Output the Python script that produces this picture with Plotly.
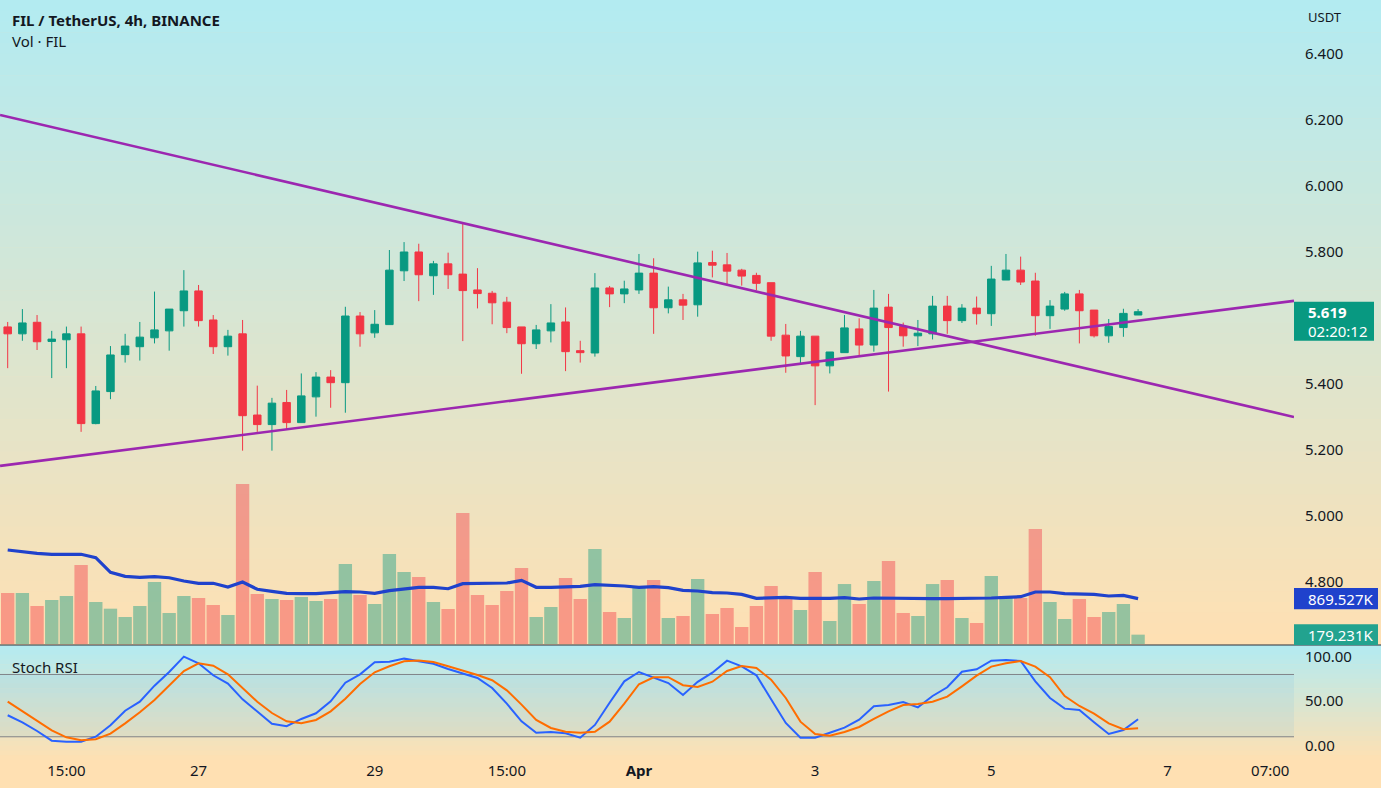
import plotly.graph_objects as go

# ---- data: FIL/USDT 4h candles, bar index 0..77 ----
OPEN = [5.573, 5.552, 5.587, 5.529, 5.534, 5.552, 5.280, 5.377, 5.489, 5.513,
        5.540, 5.561, 5.622, 5.682, 5.594, 5.513, 5.552, 5.306, 5.277, 5.344,
        5.283, 5.361, 5.421, 5.404, 5.606, 5.555, 5.580, 5.743, 5.800, 5.728,
        5.764, 5.733, 5.685, 5.675, 5.648, 5.573, 5.522, 5.561, 5.588, 5.501,
        5.494, 5.691, 5.673, 5.685, 5.736, 5.631, 5.655, 5.640, 5.768, 5.761,
        5.745, 5.729, 5.707, 5.548, 5.483, 5.545, 5.455, 5.495, 5.567, 5.518,
        5.633, 5.574, 5.546, 5.552, 5.636, 5.592, 5.630, 5.613, 5.715, 5.745,
        5.712, 5.607, 5.627, 5.673, 5.624, 5.546, 5.571, 5.609]
HIGH = [5.588, 5.627, 5.609, 5.561, 5.574, 5.574, 5.394, 5.515, 5.552, 5.588,
        5.680, 5.627, 5.745, 5.700, 5.609, 5.564, 5.594, 5.395, 5.358, 5.382,
        5.432, 5.436, 5.442, 5.634, 5.618, 5.624, 5.806, 5.830, 5.825, 5.773,
        5.798, 5.887, 5.751, 5.682, 5.664, 5.573, 5.579, 5.642, 5.632, 5.531,
        5.736, 5.697, 5.713, 5.794, 5.781, 5.695, 5.673, 5.801, 5.804, 5.797,
        5.749, 5.737, 5.707, 5.582, 5.561, 5.545, 5.497, 5.609, 5.599, 5.685,
        5.673, 5.586, 5.594, 5.667, 5.667, 5.642, 5.665, 5.758, 5.794, 5.786,
        5.737, 5.654, 5.679, 5.685, 5.624, 5.597, 5.628, 5.627]
LOW = [5.448, 5.531, 5.503, 5.418, 5.448, 5.255, 5.278, 5.354, 5.465, 5.471,
       5.523, 5.501, 5.574, 5.574, 5.491, 5.486, 5.198, 5.255, 5.198, 5.263,
       5.283, 5.301, 5.328, 5.313, 5.513, 5.540, 5.580, 5.712, 5.651, 5.670,
       5.688, 5.530, 5.629, 5.581, 5.554, 5.431, 5.506, 5.526, 5.439, 5.465,
       5.483, 5.633, 5.645, 5.673, 5.552, 5.614, 5.594, 5.604, 5.723, 5.702,
       5.698, 5.684, 5.531, 5.434, 5.463, 5.336, 5.432, 5.495, 5.483, 5.498,
       5.377, 5.513, 5.515, 5.535, 5.552, 5.585, 5.580, 5.576, 5.715, 5.700,
       5.546, 5.567, 5.622, 5.523, 5.541, 5.525, 5.543, 5.614]
CLOSE = [5.552, 5.585, 5.528, 5.536, 5.552, 5.280, 5.379, 5.488, 5.515, 5.542,
         5.564, 5.627, 5.682, 5.592, 5.513, 5.545, 5.304, 5.277, 5.342, 5.283,
         5.364, 5.421, 5.404, 5.606, 5.552, 5.581, 5.745, 5.800, 5.731, 5.764,
         5.731, 5.683, 5.674, 5.646, 5.571, 5.522, 5.564, 5.585, 5.498, 5.495,
         5.691, 5.673, 5.688, 5.736, 5.631, 5.655, 5.639, 5.767, 5.760, 5.742,
         5.727, 5.705, 5.545, 5.485, 5.545, 5.455, 5.497, 5.570, 5.518, 5.630,
         5.571, 5.546, 5.554, 5.636, 5.592, 5.630, 5.613, 5.718, 5.745, 5.709,
         5.607, 5.636, 5.673, 5.622, 5.546, 5.574, 5.614, 5.619]

# volume and its moving average, in thousands of FIL
VOLUME_K = [978, 978, 729, 844, 920, 1515, 805, 677, 518, 729,
            1189, 594, 920, 882, 748, 556, 3068, 959, 863, 844,
            901, 825, 863, 1534, 940, 767, 1726, 1381, 1285, 805,
            671, 2512, 940, 748, 1016, 1457, 518, 709, 1266, 863,
            1822, 614, 499, 1112, 1227, 499, 537, 1246, 575, 690,
            326, 729, 1112, 882, 652, 1381, 441, 1150, 767, 1208,
            1592, 594, 537, 1150, 1227, 499, 403, 1304, 920, 882,
            2205, 805, 479, 863, 518, 614, 767, 179.231]
VOL_MA_K = [1802, 1764, 1739, 1720, 1720, 1720, 1655, 1375, 1298, 1279,
            1291, 1271, 1208, 1164, 1164, 1093, 1189, 1049, 1010, 972,
            965, 965, 984, 1003, 997, 972, 1022, 1060, 1087, 1087,
            1060, 1157, 1157, 1157, 1170, 1221, 1087, 1087, 1093, 1105,
            1140, 1131, 1112, 1087, 1099, 1080, 1029, 1016, 984, 978,
            952, 876, 888, 895, 876, 869, 876, 888, 863, 882,
            876, 869, 869, 869, 869, 869, 869, 882, 895, 907,
            997, 997, 965, 965, 952, 920, 933, 869.527]

# Stoch RSI (%K blue, %D orange)
STOCH_K = [34.2, 26.3, 16.5, 5.6, 4.5, 4.5, 10.1, 22.9, 39.3, 49.4,
           67.4, 82.8, 100.0, 92.6, 79.1, 69.7, 52.1, 37.9, 24.7, 21.8,
           30.0, 36.4, 49.9, 70.8, 80.2, 93.7, 94.4, 97.8, 95.2, 92.1,
           86.2, 81.3, 76.1, 64.8, 47.2, 27.4, 14.6, 15.4, 13.9, 9.0,
           23.3, 48.3, 72.3, 82.8, 76.4, 70.4, 57.0, 71.7, 82.0, 95.5,
           89.2, 79.1, 52.1, 25.5, 9.0, 9.0, 14.6, 20.2, 29.2, 44.3,
           45.7, 49.1, 43.1, 55.8, 65.6, 83.1, 85.8, 95.5, 96.3, 95.2,
           72.3, 53.6, 41.6, 40.1, 26.3, 13.1, 17.6, 29.7]
STOCH_D = [49.4, 38.6, 28.1, 17.3, 9.4, 6.1, 7.2, 13.5, 25.1, 37.5,
           51.3, 67.8, 83.9, 92.6, 89.9, 80.2, 64.5, 49.4, 36.7, 27.4,
           25.1, 28.9, 38.6, 52.8, 69.3, 82.5, 89.2, 94.8, 95.6, 94.1,
           89.2, 84.3, 79.4, 73.5, 62.2, 46.1, 28.9, 19.9, 15.7, 14.6,
           15.7, 27.0, 47.2, 69.0, 76.9, 76.9, 68.0, 66.0, 71.9, 83.9,
           89.5, 87.3, 74.2, 53.6, 27.0, 13.1, 11.2, 15.4, 21.0, 30.0,
           38.6, 45.7, 46.9, 49.4, 55.1, 66.7, 78.7, 88.8, 92.6, 95.2,
           88.8, 76.9, 55.8, 44.6, 36.0, 25.1, 18.4, 19.5]
STOCH_BANDS = [80, 10]

# hand-drawn trend lines (bar index, price)
TREND_DOWN_X = [-0.52, 87.62]
TREND_DOWN_Y = [6.215, 5.300]
TREND_UP_X = [-0.52, 87.62]
TREND_UP_Y = [5.152, 5.652]

TIME_TICKS = [4, 13, 25, 34, 43, 55, 67, 79, 86]
TIME_LABELS = ["15:00", "27", "29", "15:00", "<b>Apr</b>", "3", "5", "7", "07:00"]
PRICE_TICKS = [4.8, 5.0, 5.2, 5.4, 5.8, 6.0, 6.2, 6.4]
STOCH_TICKS = [0, 50, 100]
LAST_PRICE = 5.619
COUNTDOWN = "02:20:12"

# ---- layout geometry (px) ----
W, H = 1381, 788
PLOT_W, PLOT_H = 1294, 760
MAIN_H = 645
X_RANGE = [-0.5245, 87.62]
P_RANGE = [4.6091, 6.5636]
V_RANGE = [-19.2, 12349]
S_RANGE = [-16.1, 112.0]

GREEN, RED = "#089981", "#f23645"
MA_BLUE = "#1f42cc"
TEXT = "#131722"
FONT = "Noto Sans, Open Sans, sans-serif"
CYAN, PEACH = (178, 235, 242), (255, 224, 178)


def py_price(p):
    return (P_RANGE[1] - p) / (P_RANGE[1] - P_RANGE[0]) * MAIN_H


def py_vol(v):
    return (V_RANGE[1] - v) / (V_RANGE[1] - V_RANGE[0]) * MAIN_H


def yp(px):
    return 1 - px / PLOT_H


def xp(px):
    return px / PLOT_W


def mix(c0, c1, t):
    return "rgb(%d,%d,%d)" % tuple(round(a + (b - a) * t) for a, b in zip(c0, c1))


idx = list(range(len(CLOSE)))
vol_colors = ["rgba(8,153,129,0.42)" if c >= o else "rgba(242,54,69,0.42)"
              for o, c in zip(OPEN, CLOSE)]

fig = go.Figure()
fig.add_trace(go.Bar(x=idx, y=VOLUME_K, marker=dict(color=vol_colors, line=dict(width=0)),
                     width=0.91, yaxis="y2", showlegend=False, hoverinfo="skip"))
fig.add_trace(go.Scatter(x=idx, y=VOL_MA_K, mode="lines", yaxis="y2",
                         line=dict(color=MA_BLUE, width=3.2), showlegend=False))
fig.add_trace(go.Candlestick(
    x=idx, open=OPEN, high=HIGH, low=LOW, close=CLOSE,
    increasing=dict(line=dict(color=GREEN, width=1), fillcolor=GREEN),
    decreasing=dict(line=dict(color=RED, width=1), fillcolor=RED),
    whiskerwidth=0, showlegend=False, yaxis="y"))
for tx, ty in [(TREND_DOWN_X, TREND_DOWN_Y), (TREND_UP_X, TREND_UP_Y)]:
    fig.add_trace(go.Scatter(x=tx, y=ty, mode="lines", yaxis="y",
                             line=dict(color="#9c27b0", width=2.6), showlegend=False))
fig.add_trace(go.Scatter(x=idx, y=STOCH_K, mode="lines", yaxis="y3",
                         line=dict(color="#2962ff", width=2), showlegend=False))
fig.add_trace(go.Scatter(x=idx, y=STOCH_D, mode="lines", yaxis="y3",
                         line=dict(color="#ff6d00", width=2), showlegend=False))

# background gradients (main pane, stoch pane, time strip)
shapes = []
def gradient(top, bottom, n):
    step = (bottom - top) / n
    for k in range(n):
        shapes.append(dict(type="rect", xref="paper", yref="paper", layer="below",
                           x0=0, x1=W / PLOT_W, y0=yp(top + (k + 1) * step + 0.6),
                           y1=yp(top + k * step), fillcolor=mix(CYAN, PEACH, (k + 0.5) / n),
                           line=dict(width=0)))
gradient(0, MAIN_H, 60)
gradient(MAIN_H, PLOT_H, 24)
shapes.append(dict(type="rect", xref="paper", yref="paper", layer="below", x0=0, x1=W / PLOT_W,
                   y0=yp(H), y1=yp(PLOT_H), fillcolor=mix(CYAN, PEACH, 1), line=dict(width=0)))
shapes.append(dict(type="rect", xref="paper", yref="y3", layer="below", x0=0, x1=1,
                   y0=STOCH_BANDS[1], y1=STOCH_BANDS[0], fillcolor="rgba(33,150,243,0.08)",
                   line=dict(width=0)))
for b in STOCH_BANDS:
    shapes.append(dict(type="line", xref="paper", yref="y3", layer="below", x0=0, x1=1,
                       y0=b, y1=b, line=dict(color="#808388", width=1)))
shapes.append(dict(type="line", xref="paper", yref="paper", x0=0, x1=W / PLOT_W,
                   y0=yp(MAIN_H), y1=yp(MAIN_H), line=dict(color="#2a2e39", width=1)))

# right-hand price scale labels
lp = py_price(LAST_PRICE)
ma_y = py_vol(VOL_MA_K[-1])
v_y = py_vol(VOLUME_K[-1])
shapes.append(dict(type="rect", xref="paper", yref="paper", x0=1, x1=xp(1374),
                   y0=yp(lp + 29), y1=yp(lp - 10), fillcolor=GREEN, line=dict(width=0)))
shapes.append(dict(type="rect", xref="paper", yref="paper", x0=1, x1=xp(1378),
                   y0=yp(ma_y + 10.7), y1=yp(ma_y - 10.7), fillcolor=MA_BLUE, line=dict(width=0)))
shapes.append(dict(type="rect", xref="paper", yref="paper", x0=1, x1=xp(1378),
                   y0=yp(v_y + 10.3), y1=yp(v_y - 10.3), fillcolor="#22a38f", line=dict(width=0)))

annotations = [
    dict(text="<b>FIL / TetherUS, 4h, BINANCE</b>", x=xp(10), y=yp(20), font=dict(size=15, color=TEXT)),
    dict(text="Vol · FIL", x=xp(10), y=yp(41), font=dict(size=15, color=TEXT)),
    dict(text="Stoch RSI", x=xp(10), y=yp(667), font=dict(size=15, color=TEXT)),
    dict(text="USDT", x=xp(1306), y=yp(17), font=dict(size=13, color=TEXT)),
    dict(text="<b>%.3f</b>" % LAST_PRICE, x=xp(1306), y=yp(lp + 0.5), font=dict(size=15, color="white")),
    dict(text=COUNTDOWN, x=xp(1306), y=yp(lp + 19.5), font=dict(size=15, color="white")),
    dict(text="%.3fK" % VOL_MA_K[-1], x=xp(1306), y=yp(ma_y), font=dict(size=15, color="white")),
    dict(text="%.3fK" % VOLUME_K[-1], x=xp(1306), y=yp(v_y), font=dict(size=15, color="white")),
]
for a in annotations:
    a.update(xref="paper", yref="paper", xanchor="left", yanchor="middle", showarrow=False)

axis_font = dict(family=FONT, size=15, color=TEXT)
fig.update_layout(
    width=W, height=H,
    margin=dict(l=0, r=W - PLOT_W, t=0, b=H - PLOT_H),
    paper_bgcolor="#ffe0b2", plot_bgcolor="rgba(0,0,0,0)",
    font=dict(family=FONT, color=TEXT),
    boxgap=0.27,
    xaxis=dict(domain=[0, 1], range=X_RANGE, anchor="y3", tickvals=TIME_TICKS,
               ticktext=TIME_LABELS, showgrid=False, zeroline=False, showline=False,
               ticks="", tickfont=axis_font, rangeslider=dict(visible=False)),
    yaxis=dict(domain=[yp(MAIN_H), 1], range=P_RANGE, side="right", anchor="x",
               tickvals=PRICE_TICKS, ticktext=["%.3f" % v for v in PRICE_TICKS],
               showgrid=False, zeroline=False, ticks="", tickfont=axis_font,
               ticklabelstandoff=10),
    yaxis2=dict(overlaying="y", range=V_RANGE, visible=False),
    yaxis3=dict(domain=[0, yp(MAIN_H + 1)], range=S_RANGE, side="right", anchor="x",
                tickvals=STOCH_TICKS, ticktext=["%.2f" % v for v in STOCH_TICKS],
                showgrid=False, zeroline=False, ticks="", tickfont=axis_font,
                ticklabelstandoff=10),
    shapes=shapes,
    annotations=annotations,
    showlegend=False,
)

# drop the default page margin so the chart sits flush in the window
fig.write_html("out.html", config={"displayModeBar": False},
               post_script="document.body.style.margin='0px';")
